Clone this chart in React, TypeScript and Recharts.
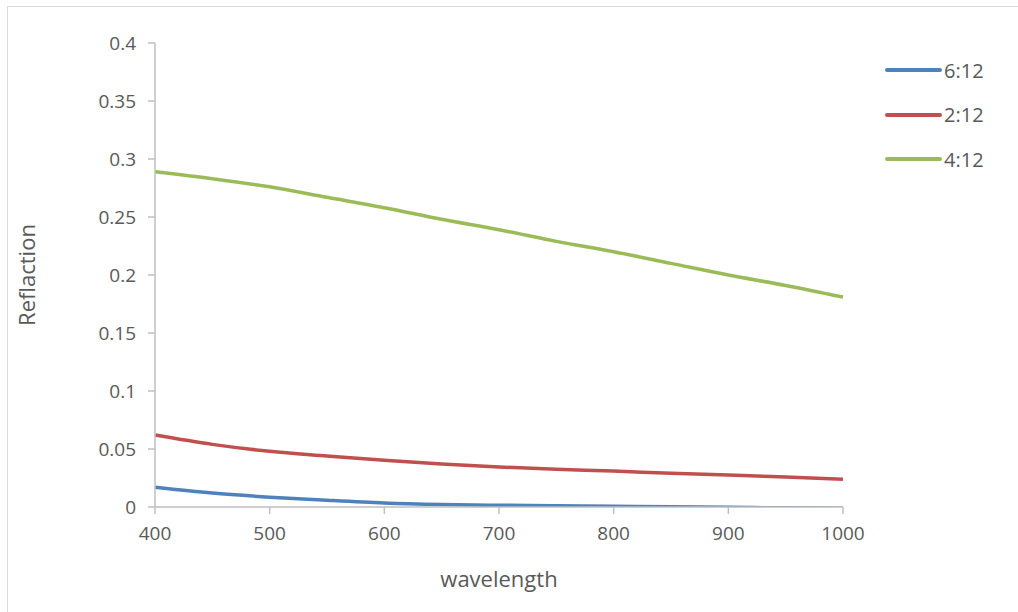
import React from "react";
import { LineChart, Line, XAxis, YAxis } from "recharts";

const wavelengths = [400, 450, 500, 550, 600, 650, 700, 750, 800, 850, 900, 950, 1000];
const series612 = [0.017, 0.012, 0.0085, 0.0058, 0.0035, 0.0022, 0.0015, 0.001, 0.0006, 0.0002, -0.0003, -0.0007, -0.001];
const series212 = [0.062, 0.054, 0.048, 0.044, 0.0402, 0.037, 0.0345, 0.0325, 0.031, 0.029, 0.0275, 0.0258, 0.024];
const series412 = [0.289, 0.283, 0.276, 0.267, 0.258, 0.248, 0.239, 0.229, 0.22, 0.21, 0.2, 0.191, 0.181];
const xTicks = [400, 500, 600, 700, 800, 900, 1000];
const yTicks = [0, 0.05, 0.1, 0.15, 0.2, 0.25, 0.3, 0.35, 0.4];

const SERIES = [
  { key: "s612", name: "6:12", color: "#4F81BD" },
  { key: "s212", name: "2:12", color: "#C0504D" },
  { key: "s412", name: "4:12", color: "#9BBB59" },
];

const data = wavelengths.map((w, i) => ({
  w,
  s612: series612[i],
  s212: series212[i],
  s412: series412[i],
}));

const FONT = "'Open Sans', 'Noto Sans', sans-serif";
const TEXT = "#595959";
const AXIS = "#BFBFBF";

// legend drawn as a plain overlay so it doesn't eat plot width
const LegendBox = () => (
  <div
    style={{
      position: "absolute",
      left: 877,
      top: 41,
      fontFamily: FONT,
      fontSize: 20,
      color: TEXT,
    }}
  >
    {SERIES.map((s) => (
      <div key={s.key} style={{ display: "flex", alignItems: "center", height: 44.5 }}>
        <svg width={59} height={10}>
          <line x1={2} y1={5} x2={55} y2={5} stroke={s.color} strokeWidth={4} strokeLinecap="round" />
        </svg>
        <span>{s.name}</span>
      </div>
    ))}
  </div>
);

const App: React.FC = () => {
  return (
    <div
      style={{
        position: "absolute",
        left: 7,
        top: 6,
        width: 1010,
        height: 606,
        border: "1px solid #D9D9D9",
        background: "#fff",
      }}
    >
      <LineChart
        width={1010}
        height={604}
        data={data}
        margin={{ top: 36, right: 175, left: 0, bottom: 24 }}
      >
        <XAxis
          dataKey="w"
          type="number"
          domain={[400, 1000]}
          ticks={xTicks}
          height={80}
          stroke={AXIS}
          strokeWidth={1.5}
          tickSize={7}
          tickMargin={13}
          tick={{ fill: TEXT, fontSize: 19, fontFamily: FONT }}
          label={{
            value: "wavelength",
            position: "insideBottom",
            offset: 0,
            fill: TEXT,
            fontSize: 22,
            fontFamily: FONT,
          }}
        />
        <YAxis
          type="number"
          domain={[0, 0.4]}
          ticks={yTicks}
          allowDataOverflow
          width={147}
          stroke={AXIS}
          strokeWidth={1.5}
          tickSize={7}
          tickMargin={12}
          tick={{ fill: TEXT, fontSize: 19, fontFamily: FONT }}
          label={{
            value: "Reflaction",
            angle: -90,
            position: "insideLeft",
            offset: 19,
            fill: TEXT,
            fontSize: 22,
            fontFamily: FONT,
            style: { textAnchor: "middle" },
          }}
        />
        {SERIES.map((s) => (
          <Line
            key={s.key}
            dataKey={s.key}
            name={s.name}
            type="monotone"
            stroke={s.color}
            strokeWidth={3.5}
            dot={false}
            isAnimationActive={false}
          />
        ))}
      </LineChart>
      <LegendBox />
    </div>
  );
};

export default App;
